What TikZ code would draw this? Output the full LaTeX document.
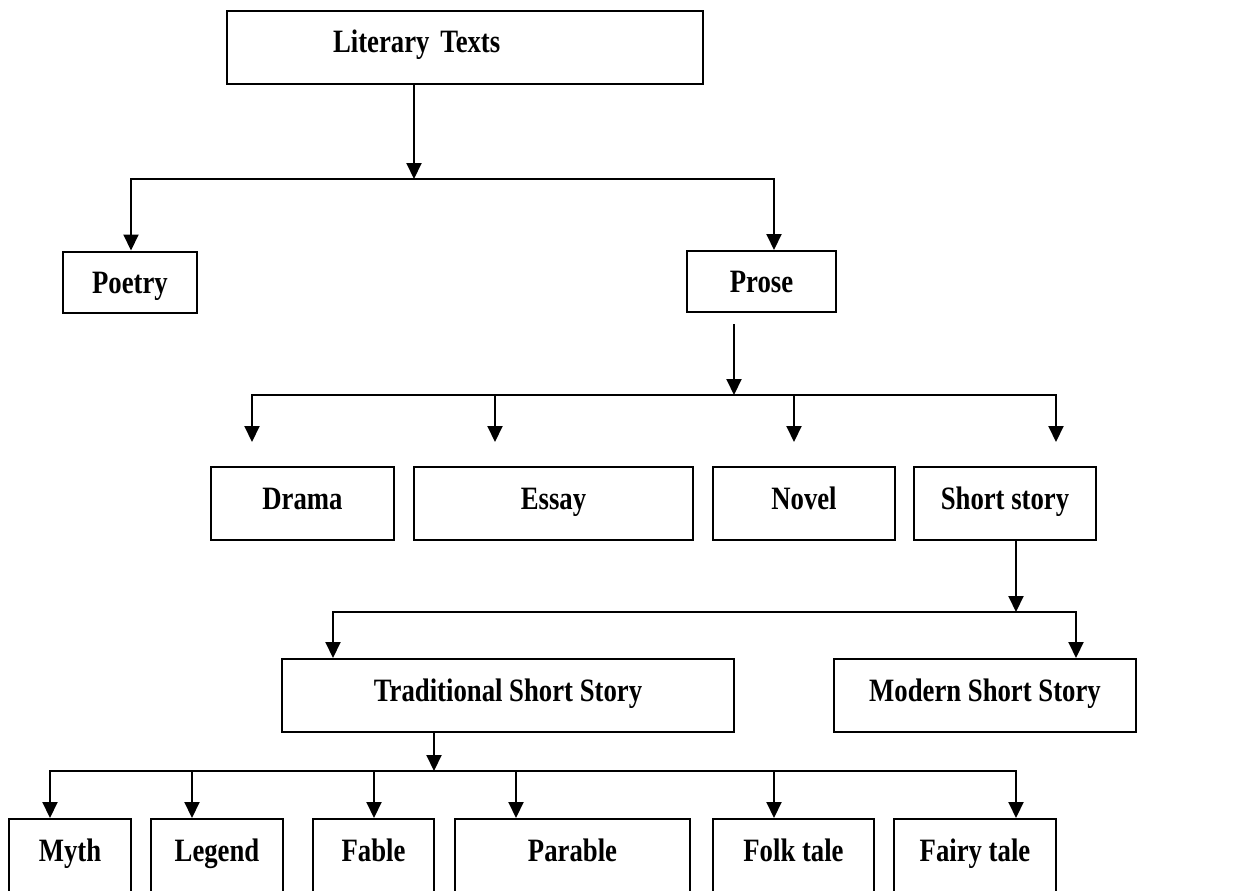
\documentclass[tikz,border=0pt]{standalone}
\usepackage{fontspec}
\setmainfont{Liberation Serif}[FakeStretch=0.82]
\usetikzlibrary{arrows.meta}

\begin{document}
\begin{tikzpicture}[x=0.5pt, y=-0.5pt]
        % ================= styles =================
        \tikzset{
            % box: thin black frame, bold text
            tbox/.style={draw=black, line width=1pt, fill=white, inner sep=0pt,
                minimum height=36.5pt, text height=11pt, text depth=5.5pt,
                font=\fontsize{16.3pt}{19pt}\selectfont\bfseries},
            % lower box for Poetry / Prose
            lowbox/.style={tbox, minimum height=30.5pt, text depth=0pt},
            % horizontal bus lines
            bus/.style={line width=1pt, line cap=rect},
            % down arrows
            arr/.style={line width=1pt, -{Triangle[width=7.5pt, length=8pt]}}
        }
        \useasboundingbox (0,0) rectangle (1243,890);
        \clip (0,0) rectangle (1243,890);

        % ================= 1. Literary Texts =================
        \node[tbox, text width=238pt, align=left] (lit) at (465,47) {\hspace*{53pt}\mbox{Literary Texts}};
        \node[lowbox, minimum width=67pt] (poetry) at (130,282) {Poetry};
        \node[lowbox, minimum width=74.5pt] (prose) at (761.5,281.5) {Prose};

        \coordinate (j1) at (414,179);
        \coordinate (j1l) at (131,179);
        \coordinate (j1r) at (774,179);

        \draw[arr] (j1 |- lit.south) -- (j1);
        \draw[bus] (j1l) -- (j1r);
        \draw[arr] (j1l) -- (j1l |- poetry.north);
        \draw[arr] (j1r) -- (j1r |- prose.north);

        % ================= 2. Prose =================
        \node[tbox, minimum width=91.5pt] (drama) at (302.5,503.5) {Drama};
        \node[tbox, minimum width=139.5pt] (essay) at (553.5,503.5) {Essay};
        \node[tbox, minimum width=91pt] (novel) at (804,503.5) {Novel};
        \node[tbox, minimum width=91pt] (short) at (1005,503.5) {Short story};

        \coordinate (j2) at (734,395);
        \coordinate (j2l) at (252,395);
        \coordinate (j2r) at (1056,395);

        \draw[arr] ([yshift=-5.5pt]prose.south -| j2) -- (j2);
        \draw[bus] (j2l) -- (j2r);
        \foreach \x/\n in {252/drama, 495/essay, 794/novel, 1056/short}{
            \coordinate (t\n) at (\x,395);
            \draw[arr] (t\n) -- ([yshift=12pt]t\n |- \n.north);
        }

        % ================= 3. Short story =================
        \node[tbox, minimum width=226pt] (trad) at (508,695.5) {Traditional Short Story};
        \node[tbox, minimum width=151pt] (modern) at (985,695.5) {Modern Short Story};

        \coordinate (j3) at (1016,612);
        \coordinate (j3l) at (333,612);
        \coordinate (j3r) at (1076,612);

        \draw[arr] (j3 |- short.south) -- (j3);
        \draw[bus] (j3l) -- (j3r);
        \draw[arr] (j3l) -- (j3l |- trad.north);
        \draw[arr] (j3r) -- (j3r |- modern.north);

        % ================= 4. Traditional Short Story =================
        \node[tbox, minimum width=61pt] (myth) at (70,855.5) {Myth};
        \node[tbox, minimum width=66pt] (legend) at (217,855.5) {Legend};
        \node[tbox, minimum width=60.5pt] (fable) at (373.5,855.5) {Fable};
        \node[tbox, minimum width=117.5pt] (parable) at (572.5,855.5) {Parable};
        \node[tbox, minimum width=80.5pt] (folk) at (793.5,855.5) {Folk tale};
        \node[tbox, minimum width=81pt] (fairy) at (975,855.5) {Fairy tale};

        \coordinate (j4) at (434,771);
        \coordinate (j4l) at (50,771);
        \coordinate (j4r) at (1016,771);

        \draw[arr] (j4 |- trad.south) -- (j4);
        \draw[bus] (j4l) -- (j4r);
        \foreach \x/\n in {50/myth, 192/legend, 374/fable, 516/parable, 774/folk, 1016/fairy}{
            \coordinate (t\n) at (\x,771);
            \draw[arr] (t\n) -- (t\n |- \n.north);
        }

    \end{tikzpicture}
\end{document}
